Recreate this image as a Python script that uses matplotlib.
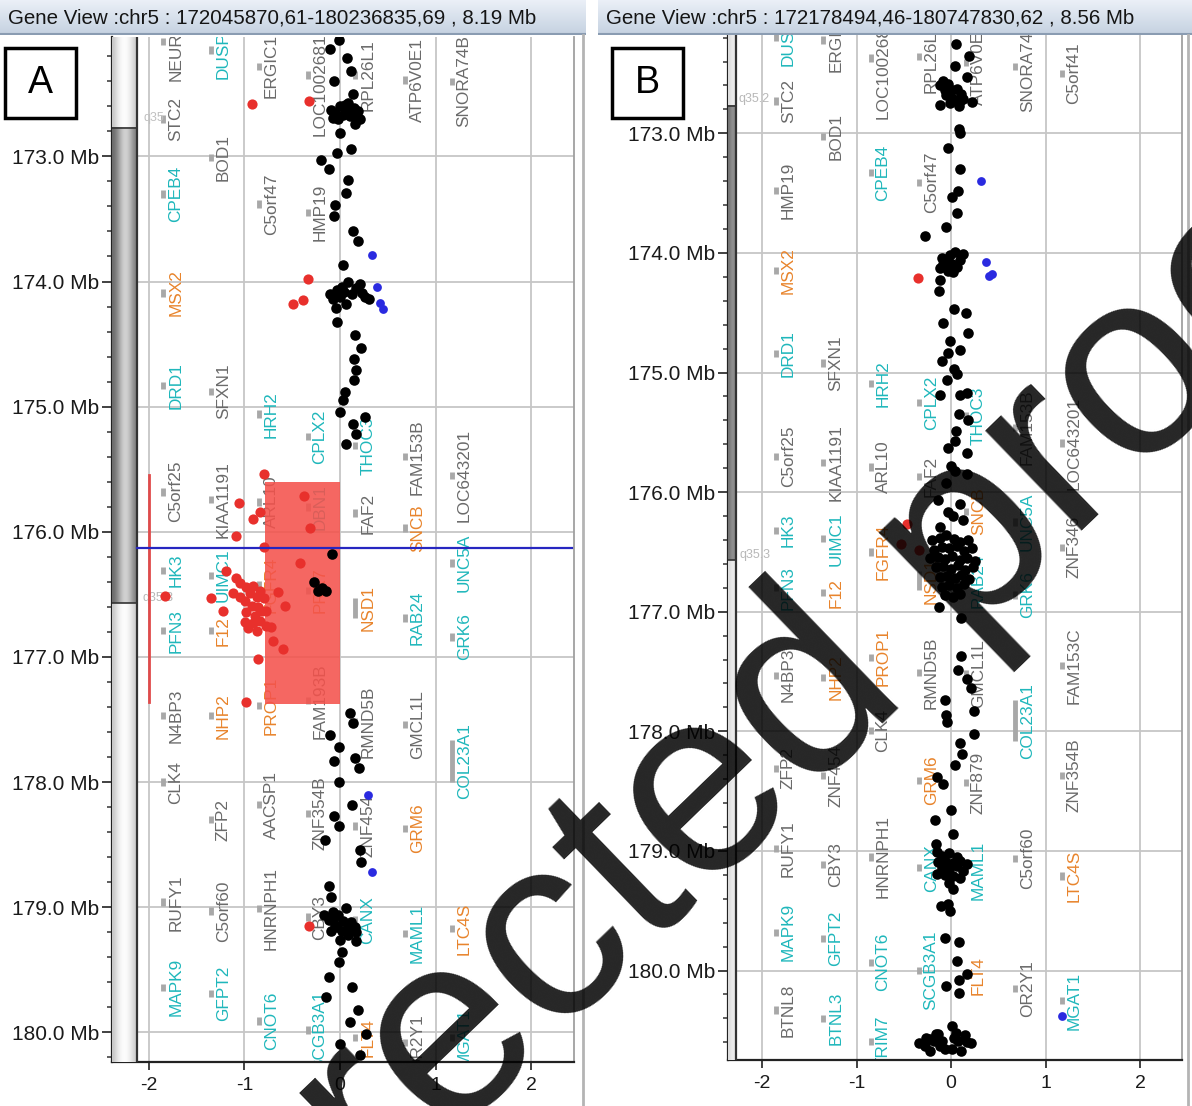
import numpy as np
import matplotlib.pyplot as plt
from matplotlib.patches import Rectangle
from matplotlib.lines import Line2D
from matplotlib.ticker import MultipleLocator, FuncFormatter

plt.rcParams['font.family'] = ['Liberation Sans', 'DejaVu Sans']

W, H = 1192, 1106

# x positions (score units) of the seven gene label columns
label_cols = [-1.72, -1.22, -0.72, -0.21, 0.29, 0.81, 1.30]
kind_colors = {'g': '#6a6a6a', 'c': '#1fb7bb', 'o': '#e8842c'}

# cytoband q35.2 (grey part of the ideogram), Mb
band_q352 = (172.77, 176.57)

# ---------------- panel A ----------------
a_title = 'Gene View :chr5 : 172045870,61-180236835,69 , 8.19 Mb'
a_range = (172.046, 180.237)

a_genes = [
    ('NEURL1B', 0, 172.08, 'g'), ('STC2', 0, 172.70, 'g'), ('CPEB4', 0, 173.30, 'c'),
    ('MSX2', 0, 174.09, 'o'), ('DRD1', 0, 174.83, 'c'), ('C5orf25', 0, 175.68, 'g'),
    ('HK3', 0, 176.31, 'c'), ('PFN3', 0, 176.79, 'c'), ('N4BP3', 0, 177.47, 'g'),
    ('CLK4', 0, 178.00, 'g'), ('RUFY1', 0, 178.96, 'g'), ('MAPK9', 0, 179.64, 'c'),
    ('DUSP1', 1, 172.15, 'c'), ('BOD1', 1, 173.01, 'g'), ('SFXN1', 1, 174.88, 'g'),
    ('KIAA1191', 1, 175.74, 'g'), ('UIMC1', 1, 176.35, 'c'), ('F12', 1, 176.79, 'o'),
    ('NHP2', 1, 177.47, 'o'), ('ZFP2', 1, 178.30, 'g'), ('C5orf60', 1, 179.03, 'g'),
    ('GFPT2', 1, 179.69, 'c'),
    ('ERGIC1', 2, 172.28, 'g'), ('C5orf47', 2, 173.38, 'g'), ('HRH2', 2, 175.06, 'c'),
    ('ARL10', 2, 175.76, 'g'), ('FGFR4', 2, 176.42, 'o'), ('PROP1', 2, 177.39, 'o'),
    ('AACSP1', 2, 178.18, 'g'), ('HNRNPH1', 2, 179.01, 'g'), ('CNOT6', 2, 179.91, 'c'),
    ('LOC100268168', 3, 172.35, 'g'), ('HMP19', 3, 173.45, 'g'), ('CPLX2', 3, 175.24, 'c'),
    ('DBN1', 3, 175.80, 'c'), ('PRR7', 3, 176.47, 'o'), ('FAM193B', 3, 177.35, 'g'),
    ('ZNF354B', 3, 178.25, 'g'), ('CBY3', 3, 179.08, 'g'), ('SCGB3A1', 3, 179.98, 'c'),
    ('RPL26L1', 4, 172.35, 'g'), ('THOC3', 4, 175.31, 'c'), ('FAF2', 4, 175.85, 'g'),
    ('NSD1', 4, 176.61, 'o'), ('RMND5B', 4, 177.52, 'g'), ('ZNF454', 4, 178.35, 'g'),
    ('CANX', 4, 179.10, 'c'), ('FLT4', 4, 180.04, 'o'),
    ('ATP6V0E1', 5, 172.39, 'g'), ('FAM153B', 5, 175.40, 'g'), ('SNCB', 5, 175.97, 'o'),
    ('RAB24', 5, 176.69, 'c'), ('GMCL1L', 5, 177.54, 'g'), ('GRM6', 5, 178.37, 'o'),
    ('MAML1', 5, 179.21, 'c'), ('OR2Y1', 5, 180.08, 'g'),
    ('SNORA74B', 6, 172.40, 'g'), ('LOC643201', 6, 175.55, 'g'), ('UNC5A', 6, 176.25, 'c'),
    ('GRK6', 6, 176.84, 'c'), ('COL23A1', 6, 177.83, 'c'), ('LTC4S', 6, 179.17, 'o'),
    ('MGAT1', 6, 180.04, 'c'),
]

a_black = [
    (-0.01, 172.07), (-0.10, 172.14), (0.07, 172.21), (0.12, 172.32), (-0.06, 172.40),
    (0.14, 172.50), (0.08, 172.57), (-0.09, 172.63), (-0.05, 172.65), (0.00, 172.60),
    (0.05, 172.59), (0.10, 172.63), (0.15, 172.61), (0.19, 172.64), (-0.07, 172.69),
    (-0.02, 172.70), (0.03, 172.67), (0.10, 172.68), (0.17, 172.69), (0.21, 172.70),
    (0.16, 172.74), (0.07, 172.64), (0.00, 172.81), (-0.03, 172.97), (0.12, 172.94),
    (-0.20, 173.03), (-0.12, 173.10), (0.08, 173.19), (0.06, 173.29), (-0.05, 173.39),
    (-0.06, 173.48), (0.14, 173.60), (0.19, 173.68), (0.03, 173.87),
    (-0.10, 174.10), (-0.03, 174.07), (0.02, 174.04), (0.04, 174.08), (0.08, 174.00),
    (0.13, 174.10), (0.17, 174.05), (0.21, 174.02), (0.23, 174.09), (0.26, 174.12),
    (0.30, 174.14), (-0.04, 174.21), (0.06, 174.18), (-0.07, 174.14), (0.00, 174.12),
    (-0.03, 174.32), (0.16, 174.43), (0.22, 174.53), (0.15, 174.62), (0.17, 174.71),
    (0.15, 174.79), (0.05, 174.88), (0.03, 174.95), (0.00, 175.04), (0.26, 175.08),
    (0.14, 175.14), (0.17, 175.22), (0.06, 175.30),
    (-0.08, 176.18), (-0.27, 176.40), (-0.19, 176.45), (-0.15, 176.47), (-0.23, 176.47),
    (0.10, 177.45), (0.14, 177.53), (-0.10, 177.62), (-0.01, 177.72), (-0.06, 177.83),
    (0.16, 177.81), (0.20, 177.89), (-0.01, 178.00), (0.13, 178.18), (-0.06, 178.27),
    (-0.01, 178.35), (-0.16, 178.46), (0.21, 178.54), (0.22, 178.64), (-0.12, 178.83),
    (-0.09, 178.92), (0.06, 179.01),
    (-0.17, 179.06), (-0.12, 179.10), (-0.06, 179.08), (-0.02, 179.06), (0.03, 179.11),
    (0.08, 179.14), (0.12, 179.12), (0.16, 179.16), (-0.03, 179.16), (-0.09, 179.19),
    (0.02, 179.19), (0.08, 179.22), (0.00, 179.26), (0.17, 179.20), (0.17, 179.27),
    (0.10, 179.19), (-0.05, 179.14), (-0.07, 179.04),
    (0.02, 179.36), (-0.01, 179.44), (-0.11, 179.56), (0.13, 179.64), (-0.15, 179.72),
    (0.19, 179.82), (0.10, 179.92), (0.27, 180.01), (0.00, 180.09), (0.21, 180.18),
]

a_red = [
    (-0.92, 172.58), (-0.32, 172.56), (-0.34, 173.98), (-0.39, 174.15), (-0.49, 174.18),
    (-0.80, 175.54), (-0.38, 175.71), (-1.06, 175.77), (-0.84, 175.84), (-0.91, 175.90),
    (-0.31, 175.97), (-1.09, 176.03), (-0.80, 176.12), (-0.42, 176.25), (-1.19, 176.31),
    (-1.09, 176.37), (-1.05, 176.41), (-1.35, 176.53), (-1.12, 176.49), (-1.83, 176.51),
    (-0.65, 176.48), (-0.58, 176.59), (-1.22, 176.63), (-0.70, 176.87), (-0.60, 176.94),
    (-0.86, 177.02), (-0.98, 177.36), (-0.98, 176.44), (-0.91, 176.43), (-0.84, 176.47),
    (-0.94, 176.49), (-0.87, 176.52), (-0.99, 176.55), (-0.80, 176.53), (-0.92, 176.59),
    (-0.86, 176.60), (-0.98, 176.64), (-0.89, 176.67), (-0.82, 176.63), (-0.99, 176.72),
    (-0.91, 176.73), (-0.84, 176.71), (-0.96, 176.77), (-0.87, 176.79), (-0.77, 176.75),
    (-0.72, 176.76), (-1.05, 176.52), (-0.77, 176.63), (-0.32, 179.15),
]

a_blue = [(0.34, 173.79), (0.39, 174.04), (0.42, 174.17), (0.45, 174.22),
          (0.29, 178.10), (0.33, 178.72)]

# highlighted region in A: score span and Mb span
a_region_x = (-0.785, 0.0)
a_region_mb = (175.60, 177.38)
a_region_line_mb = (175.55, 177.36)
a_cursor_mb = 176.13

# ---------------- panel B ----------------
b_title = 'Gene View :chr5 : 172178494,46-180747830,62 , 8.56 Mb'
b_range = (172.178, 180.748)

b_genes = [
    ('DUSP1', 0, 172.20, 'c'), ('STC2', 0, 172.73, 'g'), ('HMP19', 0, 173.48, 'g'),
    ('MSX2', 0, 174.15, 'o'), ('DRD1', 0, 174.84, 'c'), ('C5orf25', 0, 175.70, 'g'),
    ('HK3', 0, 176.32, 'c'), ('PFN3', 0, 176.80, 'c'), ('N4BP3', 0, 177.53, 'g'),
    ('ZFP2', 0, 178.31, 'g'), ('RUFY1', 0, 178.98, 'g'), ('MAPK9', 0, 179.68, 'c'),
    ('BTNL8', 0, 180.33, 'g'),
    ('ERGIC1', 1, 172.22, 'g'), ('BOD1', 1, 173.03, 'g'), ('SFXN1', 1, 174.92, 'g'),
    ('KIAA1191', 1, 175.75, 'g'), ('UIMC1', 1, 176.39, 'c'), ('F12', 1, 176.84, 'o'),
    ('NHP2', 1, 177.55, 'o'), ('ZNF454', 1, 178.37, 'g'), ('CBY3', 1, 179.11, 'g'),
    ('GFPT2', 1, 179.73, 'c'), ('BTNL3', 1, 180.40, 'c'),
    ('LOC100268168', 2, 172.37, 'g'), ('CPEB4', 2, 173.33, 'c'), ('HRH2', 2, 175.09, 'c'),
    ('ARL10', 2, 175.79, 'g'), ('FGFR4', 2, 176.50, 'o'), ('PROP1', 2, 177.38, 'o'),
    ('CLK4', 2, 177.99, 'g'), ('HNRNPH1', 2, 179.05, 'g'), ('CNOT6', 2, 179.93, 'c'),
    ('TRIM7', 2, 180.59, 'c'),
    ('RPL26L1', 3, 172.36, 'g'), ('C5orf47', 3, 173.41, 'g'), ('CPLX2', 3, 175.25, 'c'),
    ('FAF2', 3, 175.87, 'g'), ('NSD1', 3, 176.74, 'o'), ('RMND5B', 3, 177.51, 'g'),
    ('GRM6', 3, 178.41, 'o'), ('CANX', 3, 179.14, 'c'), ('SCGB3A1', 3, 180.00, 'c'),
    ('ATP6V0E1', 4, 172.41, 'g'), ('THOC3', 4, 175.36, 'c'), ('SNCB', 4, 176.16, 'o'),
    ('RAB24', 4, 176.74, 'c'), ('GMCL1L', 4, 177.52, 'g'), ('ZNF879', 4, 178.43, 'g'),
    ('MAML1', 4, 179.16, 'c'), ('FLT4', 4, 180.04, 'o'),
    ('SNORA74B', 5, 172.44, 'g'), ('FAM153B', 5, 175.46, 'g'), ('UNC5A', 5, 176.25, 'c'),
    ('GRK6', 5, 176.86, 'c'), ('COL23A1', 5, 177.91, 'c'), ('C5orf60', 5, 179.06, 'g'),
    ('OR2Y1', 5, 180.15, 'g'),
    ('C5orf41', 6, 172.50, 'g'), ('LOC643201', 6, 175.59, 'g'), ('ZNF346', 6, 176.46, 'g'),
    ('FAM153C', 6, 177.45, 'g'), ('ZNF354B', 6, 178.37, 'g'), ('LTC4S', 6, 179.21, 'o'),
    ('MGAT1', 6, 180.25, 'c'),
]

b_black = [
    (0.05, 172.25), (0.19, 172.35), (0.04, 172.44), (0.17, 172.53), (-0.12, 172.60),
    (-0.03, 172.59), (0.01, 172.64), (0.06, 172.63), (0.11, 172.67), (-0.05, 172.68),
    (0.02, 172.71), (0.10, 172.73), (-0.01, 172.75), (0.08, 172.77), (0.13, 172.71),
    (-0.06, 172.64), (-0.08, 172.56), (0.22, 172.74), (-0.12, 172.76), (0.08, 172.96),
    (0.09, 173.00), (-0.03, 173.12), (0.10, 173.30), (0.07, 173.48), (0.01, 173.53),
    (0.06, 173.67), (-0.05, 173.78), (-0.28, 173.86),
    (0.04, 173.99), (-0.01, 174.02), (-0.10, 174.04), (-0.05, 174.08), (0.01, 174.09),
    (0.06, 174.12), (-0.12, 174.13), (-0.03, 174.15), (0.02, 174.16), (-0.08, 174.09),
    (0.10, 174.06), (0.13, 174.01),
    (-0.12, 174.23), (-0.13, 174.32), (0.03, 174.47), (0.16, 174.50), (-0.09, 174.59),
    (0.18, 174.67), (-0.01, 174.74), (-0.03, 174.84), (0.09, 174.81), (-0.10, 174.90),
    (0.03, 174.97), (0.06, 175.01), (-0.04, 175.06), (0.17, 175.17), (0.09, 175.19),
    (-0.12, 175.19), (0.08, 175.35), (0.18, 175.40), (0.05, 175.49), (0.04, 175.57),
    (-0.03, 175.63), (0.17, 175.67), (0.00, 175.78), (0.04, 175.82), (0.17, 175.85),
    (-0.05, 175.92), (-0.14, 176.07), (0.10, 176.10), (-0.03, 176.17), (0.02, 176.20),
    (-0.12, 176.29), (0.13, 176.23),
    (-0.20, 176.40), (-0.12, 176.38), (-0.05, 176.36), (0.03, 176.39), (0.10, 176.42),
    (0.18, 176.40), (-0.18, 176.48), (-0.10, 176.46), (-0.02, 176.47), (0.06, 176.45),
    (0.14, 176.49), (0.22, 176.47), (-0.22, 176.55), (-0.14, 176.54), (-0.06, 176.56),
    (0.01, 176.53), (0.09, 176.57), (0.17, 176.55), (0.25, 176.58), (-0.16, 176.63),
    (-0.08, 176.62), (0.00, 176.64), (0.07, 176.61), (0.15, 176.65), (0.23, 176.63),
    (-0.12, 176.71), (-0.04, 176.70), (0.04, 176.72), (0.11, 176.69), (0.19, 176.73),
    (-0.10, 176.79), (-0.02, 176.78), (0.06, 176.80), (0.14, 176.77), (-0.06, 176.86),
    (0.02, 176.88), (0.10, 176.85),
    (-0.13, 176.96), (0.11, 177.05), (0.11, 177.37), (0.07, 177.49), (0.17, 177.56),
    (0.21, 177.64), (-0.06, 177.74), (0.24, 177.83), (-0.05, 177.86), (-0.04, 177.92),
    (0.24, 178.02), (0.10, 178.10), (0.12, 178.19), (0.04, 178.28), (-0.15, 178.38),
    (-0.08, 178.44), (0.00, 178.66), (-0.17, 178.74), (0.02, 178.86), (-0.16, 178.94),
    (-0.15, 179.01),
    (-0.10, 179.04), (-0.02, 179.02), (0.06, 179.05), (-0.14, 179.09), (-0.06, 179.08),
    (0.02, 179.10), (0.10, 179.08), (0.17, 179.11), (-0.10, 179.14), (-0.02, 179.15),
    (0.06, 179.13), (0.13, 179.17), (-0.06, 179.20), (0.02, 179.21), (-0.15, 179.19),
    (0.09, 179.23), (-0.02, 179.27),
    (0.02, 179.32), (-0.03, 179.44), (-0.01, 179.50), (-0.11, 179.46), (-0.06, 179.73),
    (0.08, 179.76), (0.06, 179.92), (0.17, 180.03), (-0.05, 180.13), (0.08, 180.08),
    (0.08, 180.19),
    (-0.34, 180.61), (-0.22, 180.67), (-0.26, 180.56), (-0.16, 180.53), (-0.10, 180.59),
    (0.01, 180.46), (0.05, 180.52), (0.07, 180.59), (0.01, 180.66), (0.11, 180.67),
    (0.15, 180.54), (0.21, 180.61), (-0.06, 180.66), (-0.12, 180.63), (-0.18, 180.59),
    (-0.14, 180.53), (-0.28, 180.63), (-0.22, 180.57), (0.03, 180.56), (0.17, 180.60),
]

b_red = [(-0.35, 174.21), (-0.47, 176.27), (-0.53, 176.43), (-0.34, 176.48)]
b_blue = [(0.32, 173.40), (0.37, 174.08), (0.40, 174.19), (0.43, 174.18), (1.17, 180.38)]

# gene bars longer than the default tick
long_genes = {'COL23A1': 0.34, 'NSD1': 0.16}

fig = plt.figure(figsize=(W / 100, H / 100), dpi=100)


def px_axes(x0, y0, x1, y1):
    return fig.add_axes([x0 / W, 1 - y1 / H, (x1 - x0) / W, (y1 - y0) / H])


def title_bar(x0, x1, text):
    ax = px_axes(x0, 0, x1, 35)
    top = np.array([0.92, 0.94, 0.97])
    bot = np.array([0.77, 0.82, 0.88])
    grad = np.linspace(0, 1, 40)[:, None, None] * (bot - top) + top
    ax.imshow(grad, aspect='auto', extent=(0, 1, 0, 1))
    ax.set_xlim(0, 1)
    ax.set_ylim(0, 1)
    ax.axis('off')
    ax.axhline(0.02, color='#8a9cb2', lw=1.5)
    ax.text(8 / (x1 - x0), 0.48, text, transform=ax.transAxes, ha='left', va='center',
            fontsize=14.8, color='#151515')


def strip(ax, xa, xb, mb0, mb1, shades):
    img = np.array(shades)[None, :, None] * np.ones((1, 1, 3))
    ax.imshow(img, aspect='auto', extent=(xa, xb, mb1, mb0), interpolation='bicubic',
              zorder=3)


def panel(box, xlim, mb_range, genes, black, red, blue, strip_x, wide_strip):
    ax = px_axes(*box)
    # gridlines
    for v in [-2, -1, 0, 1, 2]:
        ax.axvline(v, color='#c6c6c6', lw=1.3, zorder=0)
    for mb in range(173, 181):
        ax.axhline(mb, color='#c6c6c6', lw=1.3, zorder=0)

    # gene labels and their position bars
    for name, col, pos, kind in genes:
        x = label_cols[col]
        ln = long_genes.get(name, 0.06)
        ax.plot([x - 0.13, x - 0.13], [pos - ln / 2, pos + ln / 2], color='#a8a8a8',
                lw=3.5, solid_capstyle='butt', zorder=1)
        ax.text(x, pos, name, rotation=90, ha='center', va='center', fontsize=12.4,
                color=kind_colors[kind], zorder=2, clip_on=True)

    # ideogram strip
    xa, xb = strip_x
    if wide_strip:
        white = [0.78, 0.9, 0.97, 1.0, 0.97, 0.9, 0.8]
        grey = [0.42, 0.55, 0.72, 0.84, 0.8, 0.66, 0.5]
    else:
        white = [0.86, 0.94, 0.9]
        grey = [0.45, 0.6, 0.5]
    strip(ax, xa, xb, mb_range[0], band_q352[0], white)
    strip(ax, xa, xb, band_q352[0], band_q352[1], grey)
    strip(ax, xa, xb, band_q352[1], mb_range[1], white)
    ax.plot([xb, xb], [mb_range[0], mb_range[1]], color='#333333', lw=1.6, zorder=4)
    for b in band_q352:
        ax.plot([xa, xb], [b, b], color='#333333', lw=1.2, zorder=4)

    bx, by = zip(*black)
    ax.scatter(bx, by, s=58, color='black', lw=0, zorder=6)
    rx, ry = zip(*red)
    ax.scatter(rx, ry, s=54, color='#e8302c', lw=0, zorder=6)
    ux, uy = zip(*blue)
    ax.scatter(ux, uy, s=40, color='#2a2ae0', lw=0, zorder=6)

    ax.set_xlim(*xlim)
    ax.set_ylim(mb_range[1], mb_range[0])
    ax.set_xticks([-2, -1, 0, 1, 2])
    ax.set_xticklabels(['-2', '-1', '0', '1', '2'])
    ax.yaxis.set_major_locator(MultipleLocator(1.0))
    ax.yaxis.set_minor_locator(MultipleLocator(0.2))
    ax.yaxis.set_major_formatter(FuncFormatter(lambda v, p: f'{v:.1f} Mb'))
    ax.tick_params(axis='y', which='major', length=7, width=1.3, labelsize=15, pad=2,
                   colors='#333333', labelcolor='#1a1a1a')
    ax.tick_params(axis='y', which='minor', length=3.5, width=1.1, colors='#333333')
    ax.tick_params(axis='x', length=6, width=1.3, labelsize=14, pad=5, colors='#333333',
                   labelcolor='#1a1a1a')
    ax.spines['top'].set_visible(False)
    ax.spines['right'].set_color('#a0a0a0')
    ax.spines['right'].set_linewidth(1.3)
    for s in ['left', 'bottom']:
        ax.spines[s].set_color('#222222')
        ax.spines[s].set_linewidth(1.6)
    return ax


axA = panel((112, 37, 574, 1062), (-2.387, 2.450), a_range, a_genes, a_black, a_red,
            a_blue, (-2.387, -2.126), True)
axB = panel((728, 35, 1182, 1060), (-2.360, 2.444), b_range, b_genes, b_black, b_red,
            b_blue, (-2.360, -2.275), False)

# highlighted region and markers in panel A
axA.add_patch(Rectangle((a_region_x[0], a_region_mb[0]), a_region_x[1] - a_region_x[0],
                        a_region_mb[1] - a_region_mb[0], facecolor='#f4524c', alpha=0.88,
                        lw=0, zorder=5))
axA.plot([-2.0, -2.0], a_region_line_mb, color='#e04a4a', lw=2, zorder=5)
axA.plot([-2.126, 2.43], [a_cursor_mb, a_cursor_mb], color='#2626c0', lw=1.6, zorder=7)

# band labels
axA.text(-2.06, 172.72, 'q35', fontsize=9, color='#c0c0c0', zorder=1)
axA.text(-2.07, 176.55, 'q35.3', fontsize=9, color='#b8b8b8', zorder=1)
axB.text(-2.25, 172.74, 'q35.2', fontsize=9, color='#b8b8b8', zorder=1)
axB.text(-2.24, 176.55, 'q35.3', fontsize=9, color='#b8b8b8', zorder=1)

title_bar(0, 586, a_title)
title_bar(598, 1192, b_title)

# window borders
for xp in (583, 1188):
    fig.add_artist(Line2D([xp / W, xp / W], [0, 1 - 35 / H], color='#b4b4b4', lw=2))

# panel letters
for x0, letter in ((5, 'A'), (612, 'B')):
    fig.add_artist(Rectangle((x0 / W, 1 - 118 / H), 71 / W, 70 / H, facecolor='white',
                             edgecolor='black', lw=2.5, transform=fig.transFigure,
                             zorder=20))
    fig.text((x0 + 35.5) / W, 1 - 83 / H, letter, ha='center', va='center', fontsize=27,
             zorder=21)

# watermark
fig.text(690 / W, 1 - 815 / H, 'Corrected proof', rotation=44, ha='center', va='center',
         fontsize=190, color='black', alpha=0.85, zorder=30)

fig.savefig('out.png', dpi=100)
